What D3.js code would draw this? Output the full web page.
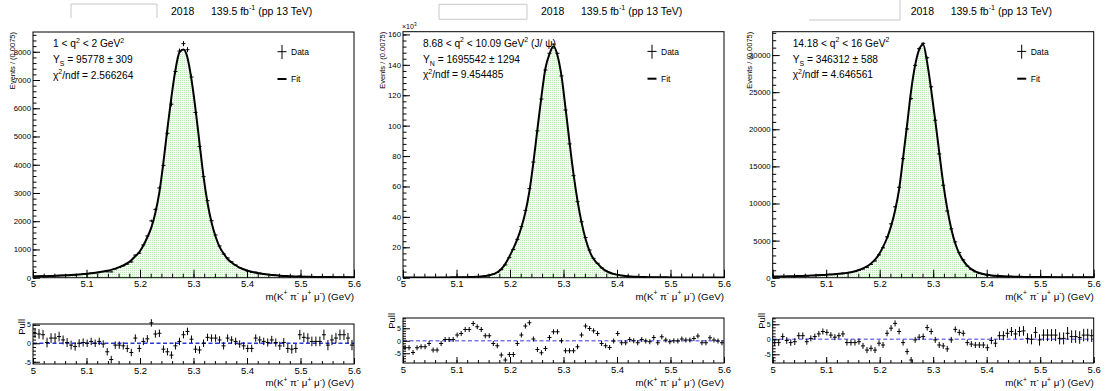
<!DOCTYPE html>
<html><head><meta charset="utf-8">
<script src="https://cdn.jsdelivr.net/npm/d3@7"></script>
<style>
body{margin:0;background:#fff;}
svg{display:block;font-family:"Liberation Sans",Arial,Helvetica,sans-serif;}
</style></head><body>
<svg id="c" width="1107" height="391"></svg>
<script>
// ---------------- data ----------------
const binLow = 5.0, binWidth = 0.0075, nBins = 80;
const binCenters = d3.range(nBins).map(i => binLow + binWidth * (i + 0.5));

const xTicks = [5, 5.1, 5.2, 5.3, 5.4, 5.5, 5.6];
const xTickLabels = ["5", "5.1", "5.2", "5.3", "5.4", "5.5", "5.6"];

// Panel 1 : 1 < q2 < 2
const data1 = [60,63,66,56,71,77,87,87,89,90,95,115,129,140,161,172,199,213,208,205,311,362,420,483,558,799,868,1160,1478,2012,2420,3179,3978,5113,6144,7300,8025,8287,8073,7107,5849,4644,3580,2728,2019,1513,1124,839,699,561,450,356,288,228,190,197,163,136,114,106,86,67,66,46,39,35,55,46,41,33,31,29,35,20,25,26,29,28,23,14];
const fit1 = [42,46,50,55,60,66,72,79,87,95,104,115,127,140,155,172,192,216,244,278,320,372,435,515,620,760,910,1143,1433,1780,2300,3030,4080,5280,6400,7360,7980,8080,7790,7015,5973,4768,3580,2646,1957,1460,1094,860,663,540,440,360,300,250,210,178,152,130,112,97,84,73,64,56,50,44,40,36,33,30,28,26,24,22,21,20,19,18,17,16];
const pull1 = [2.7,2.5,2.3,0.2,1.4,1.4,1.8,0.9,0.2,-0.5,-0.9,0,0.2,0,0.5,0,0.5,-0.2,-2.3,-4.4,-0.5,-0.5,-0.7,-1.4,-2.5,1.4,-1.4,0.5,1.2,5.5,2.5,2.7,-1.6,-2.3,-3.2,-0.7,0.5,2.3,3.2,1.1,-1.6,-1.8,0,1.6,1.4,1.4,0.9,-0.7,1.4,0.9,0.5,-0.2,-0.7,-1.4,-1.4,1.4,0.9,0.5,0.2,0.9,0.2,-0.7,0.2,-1.4,-1.6,-1.4,2.3,1.6,1.4,0.5,0.5,0.5,2.3,-0.5,0.9,1.4,2.3,2.3,1.4,-0.5];
const pullErr1 = [1.3,1.3,1.3,1.3,1.3,1.3,1.3,1.2,1.2,1.2,1.1,1.1,1.1,1,1,1,1,1,1,1,1,1,1,1,1,1,1,1,1,1,1,1,1,1,1,1,1,1,1,1,1,1,1,1,1,1,1,1,1,1,1,1,1,1,1,1,1,1,1.1,1.1,1.1,1.1,1.2,1.2,1.2,1.2,1.3,1.3,1.3,1.3,1.3,1.3,1.4,1.4,1.4,1.4,1.4,1.4,1.4,1.4];
const yTicks1 = [0,1000,2000,3000,4000,5000,6000,7000,8000];
const yTickLabels1 = ["0","1000","2000","3000","4000","5000","6000","7000","8000"];

// Panel 2 : J/psi (values in 10^3 events)
const data2 = [0.103,0.107,0.088,0.116,0.125,0.130,0.151,0.122,0.130,0.175,0.207,0.217,0.238,0.286,0.328,0.400,0.468,0.620,0.737,0.927,1.166,1.68,2.297,3.48,5.27,8.4,13.2,18.5,25.2,33.6,44.3,58.6,76.1,96.6,117.5,136.6,147.6,153.6,147.6,132.7,110.3,88,67.1,50,36.8,26.4,18.2,12.7,9.5,6.51,4.56,3.24,2.495,1.975,1.37,1.054,0.865,0.68,0.531,0.471,0.388,0.333,0.322,0.257,0.275,0.235,0.204,0.2,0.189,0.189,0.174,0.169,0.171,0.179,0.14,0.135,0.154,0.138,0.129,0.116];
const fit2 = [0.135,0.14,0.145,0.15,0.155,0.16,0.165,0.17,0.18,0.19,0.2,0.21,0.23,0.25,0.28,0.32,0.38,0.47,0.6,0.8,1.1,1.6,2.35,3.6,5.7,9.11,13.83,19.25,25.37,33.18,43.06,56.86,75.9,97.69,119.15,137.75,147.1,152.19,146.22,132.7,111.63,89.19,68.14,50.54,36.36,25.44,17.54,12.25,9.22,6.6,4.7,3.4,2.5,1.85,1.4,1.08,0.85,0.68,0.55,0.46,0.39,0.34,0.3,0.27,0.25,0.23,0.21,0.2,0.19,0.18,0.17,0.165,0.16,0.155,0.15,0.145,0.14,0.135,0.13,0.125];
const pull2 = [-2.8,-2.8,-4.7,-2.8,-2.4,-2.4,-1.1,-3.7,-3.7,-1.1,0.5,0.5,0.5,2.3,2.9,4.5,4.5,6.9,5.6,4.5,2,2,-1.1,-2,-5.7,-7.7,-5.5,-5.5,-1.1,2.3,5.9,7.2,0.7,-3.5,-4.8,-3.1,1.3,3.6,3.6,0,-4,-4,-4,-2.4,2.3,5.9,4.9,4,2.9,-1.1,-2,-2.7,-0.1,2.9,-0.8,-0.8,0.5,0,-0.8,0.5,-0.1,-0.4,1.3,-0.8,1.6,0.3,-0.4,0,-0.1,0.7,0.3,0.3,0.9,1.9,-0.8,-0.8,1.2,0.3,-0.1,-0.8];
const pullErr2 = d3.range(nBins).map(() => 1);
const yTicks2 = [0,20,40,60,80,100,120,140,160];
const yTickLabels2 = ["0","20","40","60","80","100","120","140","160"];

// Panel 3 : 14.18 < q2 < 16
const data3 = [133,142,179,174,177,194,240,259,247,287,322,366,411,441,459,485,547,623,622,710,828,1004,1172,1399,1795,2254,3069,4028,5496,7259,9554,12184,16039,20041,24126,28610,30865,31580,29642,25727,21220,16678,12452,8991,6584,4824,3381,2396,1576,1105,795,592,448,330,303,234,233,201,187,176,152,149,140,107,98,115,86,97,92,89,86,74,70,82,71,69,65,69,67,63];
const fit3 = [146,156,167,179,192,206,222,240,260,282,306,333,362,395,430,470,520,580,650,740,860,1030,1250,1540,1927,2431,3142,4150,5350,6950,9050,11900,16179,20630,25222,28644,30742,31420,28978,25313,21249,16925,12700,9300,6600,4600,3250,2300,1620,1160,850,640,490,385,310,255,215,185,162,145,131,120,111,104,98,93,88,84,80,77,74,71,68,66,64,62,60,58,56,54];
const pull3 = [-1.1,-1.1,0.9,-0.4,-1.1,-0.8,1.2,1.2,-0.8,0.3,0.9,1.8,2.6,2.3,1.4,0.7,1.2,1.8,-1.1,-1.1,-1.1,-0.8,-2.2,-3.6,-3,-3.6,-1.3,-1.9,2,3.7,5.3,2.6,-1.1,-4.1,-6.9,-0.2,0.7,0.9,3.9,2.6,-0.2,-1.9,-2.2,-3.2,-0.2,3.3,2.3,2,-1.1,-1.6,-1.9,-1.9,-1.9,-2.8,-0.4,-1.3,1.2,1.2,2,2.6,1.8,2.6,2.8,0.3,0,2.3,-0.2,1.4,1.4,1.4,1.4,0.3,0.3,2,0.9,0.9,0.6,1.4,1.4,1.2];
const pullErr3 = [1.1,1.1,1.1,1.1,1.1,1.1,1.1,1.1,1,1,1,1,1,1,1,1,1,1,1,1,1,1,1,1,1,1,1,1,1,1,1,1,1,1,1,1,1,1,1,1,1,1,1,1,1,1,1,1,1,1,1,1,1,1.1,1.2,1.3,1.4,1.5,1.5,1.5,1.6,1.6,1.6,1.7,1.7,1.8,1.9,1.9,2,2,2,2,2,2.1,2.1,2.1,2.1,2.1,2.1,2.1];
const yTicks3 = [0,5000,10000,15000,20000,25000,30000];
const yTickLabels3 = ["0","5000","10000","15000","20000","25000","30000"];

const pullTicks = [-5, 0, 5];
const pullTickLabels = ["-5", "0", "5"];

const textLines1 = [
  [["1 < q",""],["2","sup"],[" < 2 GeV",""],["2","sup"]],
  [["Y",""],["S","sub"],[" = 95778 \u00b1 309",""]],
  [["\u03c7",""],["2","sup"],["/ndf = 2.566264",""]]
];
const textLines2 = [
  [["8.68 < q",""],["2","sup"],[" < 10.09 GeV",""],["2","sup"],[" (J/ \u03c8)",""]],
  [["Y",""],["N","sub"],[" = 1695542 \u00b1 1294",""]],
  [["\u03c7",""],["2","sup"],["/ndf = 9.454485",""]]
];
const textLines3 = [
  [["14.18 < q",""],["2","sup"],[" < 16 GeV",""],["2","sup"]],
  [["Y",""],["S","sub"],[" = 346312 \u00b1 588",""]],
  [["\u03c7",""],["2","sup"],["/ndf = 4.646561",""]]
];
const xTitle = [["m(K",""],["+","sup"],[" \u03c0",""],["-","sup"],[" \u03bc",""],["+","sup"],[" \u03bc",""],["-","sup"],[") (GeV)",""]];
const lumiText = [["139.5 fb",""],["-1","sup"],[" (pp 13 TeV)",""]];
const yearText = "2018";
const yTitle = "Events / (0.0075)";

// ---------------- layout ----------------
const layout = [
  {left:33,    right:354,    mainTop:32,   mainBottom:277.7, pullTop:324, pullBottom:364, yTitleOff:21, box:[71,4,86,14,"tlr"]},
  {left:403,   right:724,    mainTop:31.7, mainBottom:277.7, pullTop:318, pullBottom:363, yTitleOff:21, box:[439,4.3,88,15,"all"]},
  {left:772.7, right:1093.7, mainTop:31.7, mainBottom:277.7, pullTop:318, pullBottom:363, yTitleOff:24, box:[809,0,91,20,"br"]}
];
const panels = [
  {data:data1, fit:fit1, pull:pull1, pullErr:pullErr1, scale:1,    yMax:8700,  yTicks:yTicks1, yLabels:yTickLabels1, yMinor:200,  pullDomain:[-5.6,5.2], dash:"#2a35d8", lines:textLines1, exp:false},
  {data:data2, fit:fit2, pull:pull2, pullErr:pullErr2, scale:1000, yMax:161.8, yTicks:yTicks2, yLabels:yTickLabels2, yMinor:4,    pullDomain:[-8.9,9.1], dash:"#7a78f0", lines:textLines2, exp:true},
  {data:data3, fit:fit3, pull:pull3, pullErr:pullErr3, scale:1,    yMax:33150, yTicks:yTicks3, yLabels:yTickLabels3, yMinor:1000, pullDomain:[-7.9,7.1], dash:"#7a78f0", lines:textLines3, exp:false}
];

const svg = d3.select("#c");
const defs = svg.append("defs");
const pat = defs.append("pattern").attr("id","hatch").attr("patternUnits","userSpaceOnUse").attr("width",2).attr("height",2);
pat.append("rect").attr("width",2).attr("height",2).attr("fill","#f4fbf3");
pat.append("rect").attr("width",1).attr("height",1).attr("fill","#bde9b6");

function rich(g, x, y, parts, fs, anchor) {
  const t = g.append("text").attr("x", x).attr("y", y).attr("font-size", fs).attr("text-anchor", anchor || "start").attr("fill","#000");
  let cur = 0;
  parts.forEach(([s, k]) => {
    const shift = k === "sup" ? -0.42*fs : (k === "sub" ? 0.28*fs : 0);
    const ts = t.append("tspan").text(s).attr("dy", shift - cur);
    if (k) ts.attr("font-size", fs*0.68);
    cur = shift;
  });
  return t;
}

panels.forEach((p, pi) => {
  const L = layout[pi];
  const g = svg.append("g");
  const x = d3.scaleLinear().domain([5, 5.6]).range([L.left, L.right]);
  const y = d3.scaleLinear().domain([0, p.yMax]).range([L.mainBottom, L.mainTop]);
  const err = v => Math.sqrt(v * p.scale) / p.scale;

  // header
  const [bx, by, bw, bh, bs] = L.box;
  const bp = [];
  if (bs === "all") bp.push([[bx,by],[bx+bw,by],[bx+bw,by+bh],[bx,by+bh],[bx,by]]);
  if (bs === "tlr") bp.push([[bx,by+bh],[bx,by],[bx+bw,by],[bx+bw,by+bh]]);
  if (bs === "br") bp.push([[bx,by+bh],[bx+bw,by+bh],[bx+bw,by]]);
  bp.forEach(pts => g.append("path").attr("d", d3.line()(pts)).attr("fill","none").attr("stroke","#c8c8c8").attr("stroke-width",1));
  g.append("text").attr("x", L.left+138).attr("y", 14.5).attr("font-size", 10.5).text(yearText);
  rich(g, L.left+178, 14.5, lumiText, 10.5);

  // main frame
  const clipId = "clip"+pi;
  defs.append("clipPath").attr("id", clipId).append("rect")
    .attr("x", L.left).attr("y", L.mainTop).attr("width", L.right-L.left).attr("height", L.mainBottom-L.mainTop);
  g.append("rect").attr("x", L.left).attr("y", L.mainTop).attr("width", L.right-L.left).attr("height", L.mainBottom-L.mainTop).attr("fill","#fff");

  const pts = binCenters.map((c,i) => [c, p.fit[i]]);
  const fitPts = [[5, p.fit[0]], ...pts, [5.6, p.fit[nBins-1]]];
  const pg = g.append("g").attr("clip-path", `url(#${clipId})`);
  pg.append("path").datum(fitPts)
    .attr("d", d3.area().x(d=>x(d[0])).y0(y(0)).y1(d=>y(d[1])).curve(d3.curveMonotoneX))
    .attr("fill","url(#hatch)");
  pg.append("path").datum(fitPts)
    .attr("d", d3.line().x(d=>x(d[0])).y(d=>y(d[1])).curve(d3.curveMonotoneX))
    .attr("fill","none").attr("stroke","#000").attr("stroke-width",2);

  // data crosses
  const dg = pg.append("g").attr("stroke","#000").attr("stroke-width",1);
  p.data.forEach((v,i) => {
    const c = binCenters[i], e = err(v);
    dg.append("line").attr("x1", x(c-binWidth/2)).attr("x2", x(c+binWidth/2)).attr("y1", y(v)).attr("y2", y(v));
    dg.append("line").attr("x1", x(c)).attr("x2", x(c)).attr("y1", y(v-e)).attr("y2", y(v+e));
  });

  // axes main
  const yMinorVals = d3.range(0, p.yMax, p.yMinor);
  const ax1 = g.append("g").attr("transform", `translate(${L.left},0)`)
    .call(d3.axisLeft(y).tickValues(p.yTicks).tickFormat((d,i)=>p.yLabels[i]).tickSize(-7).tickPadding(2));
  const ax1m = g.append("g").attr("transform", `translate(${L.left},0)`)
    .call(d3.axisLeft(y).tickValues(yMinorVals).tickFormat("").tickSize(-3.5));
  const xMinorVals = d3.range(0, 31).map(i => 5 + i*0.02);
  const ax2 = g.append("g").attr("transform", `translate(0,${L.mainBottom})`)
    .call(d3.axisBottom(x).tickValues(xTicks).tickFormat((d,i)=>xTickLabels[i]).tickSize(-8).tickPadding(3));
  const ax2m = g.append("g").attr("transform", `translate(0,${L.mainBottom})`)
    .call(d3.axisBottom(x).tickValues(xMinorVals).tickFormat("").tickSize(-4));
  [ax1, ax1m, ax2, ax2m].forEach(a => { a.select(".domain").remove(); a.selectAll("line").attr("stroke","#000"); });
  ax1.selectAll("text").attr("font-size", 7.8).attr("font-family", null).attr("fill","#000");
  ax2.selectAll("text").attr("font-size", 9.5).attr("font-family", null).attr("fill","#000");
  g.append("rect").attr("x", L.left).attr("y", L.mainTop).attr("width", L.right-L.left).attr("height", L.mainBottom-L.mainTop)
    .attr("fill","none").attr("stroke","#000").attr("stroke-width",1);

  // axis titles
  g.append("text").attr("transform", `translate(${L.left-L.yTitleOff+3},${L.mainTop}) rotate(-90)`)
    .attr("text-anchor","end").attr("font-size", 7.5).text(yTitle);
  rich(g, L.right, 299.5, xTitle, 9.8, "end");
  if (p.exp) rich(g, L.left-1, 29, [["\u00d710",""],["3","sup"]], 7);

  // text block
  p.lines.forEach((ln, li) => rich(g, L.left+20, L.mainTop + [15, 31, 46.5][li], ln, 10.2));

  // legend
  const lx = L.left + 249, ly = L.mainTop;
  g.append("line").attr("x1", lx).attr("x2", lx).attr("y1", ly+13).attr("y2", ly+27).attr("stroke","#000");
  g.append("line").attr("x1", lx-4.5).attr("x2", lx+4.5).attr("y1", ly+19.7).attr("y2", ly+19.7).attr("stroke","#000");
  g.append("text").attr("x", lx+9).attr("y", ly+23).attr("font-size", 8.5).text("Data");
  g.append("line").attr("x1", lx-4.5).attr("x2", lx+4.5).attr("y1", ly+47).attr("y2", ly+47).attr("stroke","#000").attr("stroke-width",2);
  g.append("text").attr("x", lx+9).attr("y", ly+50).attr("font-size", 8.5).text("Fit");

  // ---------------- pull pad ----------------
  const yp = d3.scaleLinear().domain(p.pullDomain).range([L.pullBottom, L.pullTop]);
  g.append("rect").attr("x", L.left).attr("y", L.pullTop).attr("width", L.right-L.left).attr("height", L.pullBottom-L.pullTop).attr("fill","#fff");
  g.append("line").attr("x1", L.left).attr("x2", L.right).attr("y1", yp(0)).attr("y2", yp(0))
    .attr("stroke", p.dash).attr("stroke-width",1.5).attr("stroke-dasharray","4,2.5");
  const pgp = g.append("g").attr("stroke","#000").attr("stroke-width",1);
  p.pull.forEach((v,i) => {
    const c = binCenters[i], e = p.pullErr[i];
    pgp.append("line").attr("x1", x(c-binWidth/2)).attr("x2", x(c+binWidth/2)).attr("y1", yp(v)).attr("y2", yp(v));
    pgp.append("line").attr("x1", x(c)).attr("x2", x(c)).attr("y1", yp(v-e)).attr("y2", yp(v+e));
  });
  const pMinor = d3.range(Math.ceil(p.pullDomain[0]), Math.floor(p.pullDomain[1])+1);
  const pa1 = g.append("g").attr("transform", `translate(${L.left},0)`)
    .call(d3.axisLeft(yp).tickValues(pullTicks).tickFormat((d,i)=>pullTickLabels[i]).tickSize(-7).tickPadding(2));
  const pa1m = g.append("g").attr("transform", `translate(${L.left},0)`)
    .call(d3.axisLeft(yp).tickValues(pMinor).tickFormat("").tickSize(-3));
  const pa2 = g.append("g").attr("transform", `translate(0,${L.pullBottom})`)
    .call(d3.axisBottom(x).tickValues(xTicks).tickFormat((d,i)=>xTickLabels[i]).tickSize(-6).tickPadding(3));
  const pa2m = g.append("g").attr("transform", `translate(0,${L.pullBottom})`)
    .call(d3.axisBottom(x).tickValues(xMinorVals).tickFormat("").tickSize(-3));
  [pa1, pa1m, pa2, pa2m].forEach(a => { a.select(".domain").remove(); a.selectAll("line").attr("stroke","#000"); });
  pa1.selectAll("text").attr("font-size", 7).attr("font-family", null).attr("fill","#000");
  pa2.selectAll("text").attr("font-size", 9.5).attr("font-family", null).attr("fill","#000");
  g.append("rect").attr("x", L.left).attr("y", L.pullTop).attr("width", L.right-L.left).attr("height", L.pullBottom-L.pullTop)
    .attr("fill","none").attr("stroke","#000").attr("stroke-width",1);
  g.append("text").attr("transform", `translate(${L.left-8},${L.pullTop-5}) rotate(-90)`)
    .attr("text-anchor","end").attr("font-size", 9.5).text("Pull");
  rich(g, L.right, 386, xTitle, 9.8, "end");
});
</script>
</body></html>
